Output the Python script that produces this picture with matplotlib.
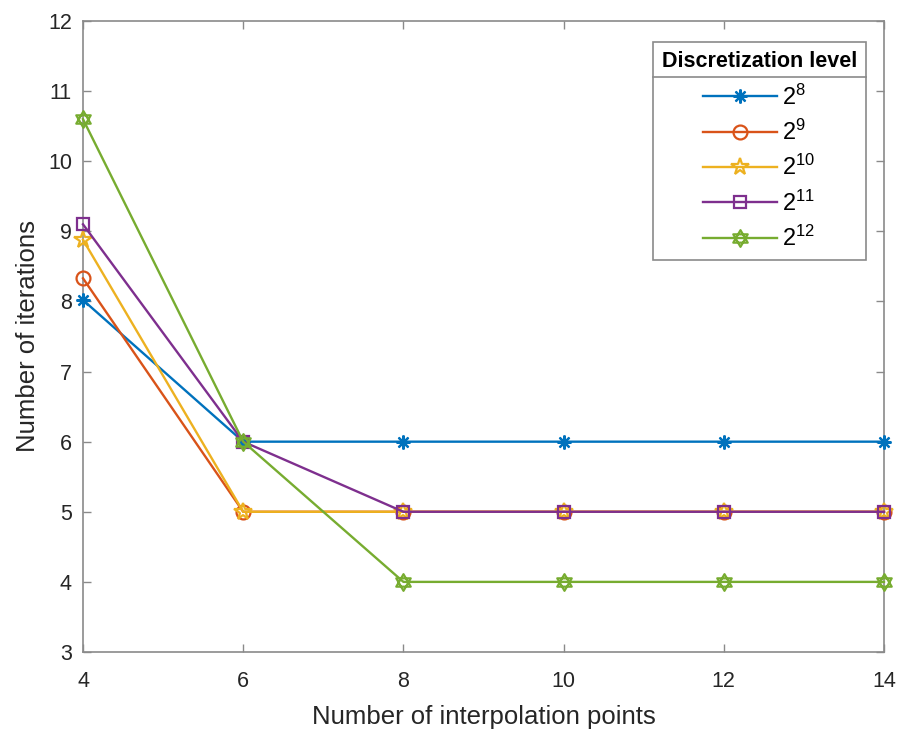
import matplotlib
matplotlib.use("Agg")
import matplotlib.pyplot as plt
from matplotlib.path import Path
from matplotlib.lines import Line2D
import numpy as np

plt.rcParams['font.family'] = ['Liberation Sans', 'DejaVu Sans']
plt.rcParams['mathtext.fontset'] = 'custom'
plt.rcParams['mathtext.rm'] = 'Liberation Sans'
plt.rcParams['mathtext.it'] = 'Liberation Sans'

x_points = [4, 6, 8, 10, 12, 14]
series_labels = ['$2^{8}$', '$2^{9}$', '$2^{10}$', '$2^{11}$', '$2^{12}$']
iters_2_8 = [8.02, 6, 6, 6, 6, 6]
iters_2_9 = [8.33, 5, 5, 5, 5, 5]
iters_2_10 = [8.88, 5, 5, 5, 5, 5]
iters_2_11 = [9.10, 6, 5, 5, 5, 5]
iters_2_12 = [10.60, 6, 4, 4, 4, 4]
series_values = [iters_2_8, iters_2_9, iters_2_10, iters_2_11, iters_2_12]
x_ticks = [4, 6, 8, 10, 12, 14]
y_ticks = [3, 4, 5, 6, 7, 8, 9, 10, 11, 12]

colors = ['#0072BD', '#D95319', '#EDB120', '#7E2F8E', '#77AC30']

# hexagram marker: two overlapping triangles
a1 = np.deg2rad([90, 210, 330, 90])
a2 = np.deg2rad([270, 30, 150, 270])
verts = list(zip(np.cos(a1), np.sin(a1))) + list(zip(np.cos(a2), np.sin(a2)))
codes = [Path.MOVETO, Path.LINETO, Path.LINETO, Path.CLOSEPOLY] * 2
hexagram = Path(verts, codes)

markers = [(8, 2, 0), 'o', '*', 's', hexagram]
msizes = [10, 10, 13, 9, 12]

fig = plt.figure(figsize=(8.99, 7.34), dpi=100)
L, R, T, B = 83, 884, 21, 652
ax = fig.add_axes([L/899, 1 - B/734, (R-L)/899, (B-T)/734])

axis_color = '#8a8a8a'
text_color = '#262626'

for vals, lab, c, m, ms in zip(series_values, series_labels, colors, markers, msizes):
    ax.plot(x_points, vals, color=c, lw=1.7, marker=m, markersize=ms,
            markerfacecolor='none', markeredgecolor=c, markeredgewidth=1.6,
            label=lab, clip_on=False, zorder=3)

ax.set_xlim(4, 14)
ax.set_ylim(3, 12)
ax.set_xticks(x_ticks)
ax.set_yticks(y_ticks)
ax.tick_params(direction='in', length=6, width=1, colors=axis_color,
               labelcolor=text_color, labelsize=15.5, top=True, right=True)
ax.tick_params(axis='x', pad=14)
ax.tick_params(axis='y', pad=8)
for s in ax.spines.values():
    s.set_color(axis_color)
    s.set_linewidth(1.2)

ax.set_xlabel('Number of interpolation points', fontsize=18.5, color=text_color, labelpad=9)
ax.set_ylabel('Number of iterations', fontsize=18.5, color=text_color, labelpad=6)

leg = ax.legend(loc='upper right', bbox_to_anchor=(1 - 18/(R-L), 1 - 21/(B-T)), fontsize=17,
                title='Discretization level', title_fontproperties={'weight': 'bold', 'size': 15.5},
                frameon=True, fancybox=False, edgecolor=axis_color, framealpha=1,
                handlelength=3.1, labelspacing=0.43, borderpad=0.38, handletextpad=0.25,
                borderaxespad=0)
leg.get_frame().set_linewidth(1.2)
leg._legend_box.align = 'center'
leg._legend_box.sep = 9

fig.canvas.draw()
r = fig.canvas.get_renderer()
lb = leg.get_window_extent(r)
tb = leg.get_title().get_window_extent(r)
ysep = tb.y0 - 5
inv = fig.transFigure.inverted()
(x0, y0) = inv.transform((lb.x0, ysep))
(x1, _) = inv.transform((lb.x1, ysep))
fig.add_artist(Line2D([x0, x1], [y0, y0], color=axis_color, lw=1.2, transform=fig.transFigure, zorder=10))

fig.savefig('out.png', dpi=100, facecolor='white')
